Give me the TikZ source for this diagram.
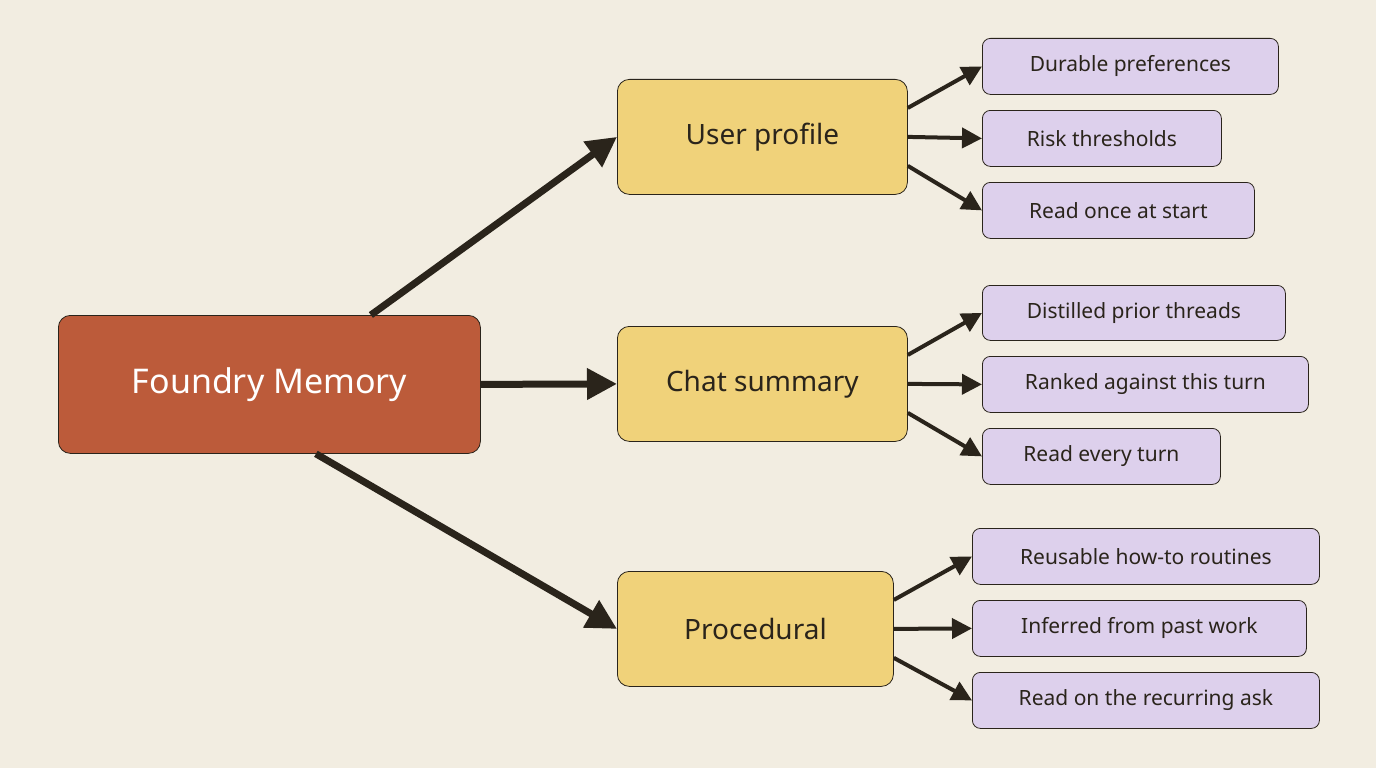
\documentclass[tikz,border=0pt]{standalone}
\usepackage{fontspec}
\setmainfont{Noto Sans}
\usetikzlibrary{arrows.meta,calc}
\definecolor{bg}{HTML}{F2EDE1}
\definecolor{rootc}{HTML}{BC5B3A}
\definecolor{midc}{HTML}{F0D27A}
\definecolor{leafc}{HTML}{DDD0EC}
\definecolor{ink}{HTML}{2A241B}
\tikzset{x=1pt,y=-1pt,
 box/.style={draw=ink,line width=0.8pt,rounded corners=12pt,anchor=north west,inner sep=0pt,align=center},
 root/.style={box,fill=rootc,text=white,font=\fontsize{34}{40}\selectfont},
 mid/.style={box,fill=midc,text=ink,font=\fontsize{28}{34}\selectfont},
 leaf/.style={box,fill=leafc,text=ink,rounded corners=8pt,font=\fontsize{21}{26}\selectfont},
 big/.style={draw=ink,line width=7pt,-{Triangle[length=30pt,width=30pt]}},
 small/.style={draw=ink,line width=4pt,-{Triangle[length=20pt,width=20pt]}}}
\begin{document}
\begin{tikzpicture}
\fill[bg] (0,0) rectangle (1376,768);
\node[root,minimum width=422pt,minimum height=138pt] (fm) at (58,315) {Foundry Memory};
\node[mid,minimum width=290pt,minimum height=115pt] (up) at (617,79) {User profile};
\node[mid,minimum width=290pt,minimum height=115pt] (cs) at (617,326) {Chat summary};
\node[mid,minimum width=276pt,minimum height=115pt] (pr) at (617,571) {Procedural};
\node[leaf,minimum width=296pt,minimum height=56pt] (a1) at (982,38) {Durable preferences};
\node[leaf,minimum width=239pt,minimum height=56pt] (a2) at (982,110) {Risk thresholds};
\node[leaf,minimum width=272pt,minimum height=56pt] (a3) at (982,182) {Read once at start};
\node[leaf,minimum width=303pt,minimum height=55pt] (b1) at (982,285) {Distilled prior threads};
\node[leaf,minimum width=326pt,minimum height=56pt] (b2) at (982,356) {Ranked against this turn};
\node[leaf,minimum width=238pt,minimum height=56pt] (b3) at (982,428) {Read every turn};
\node[leaf,minimum width=347pt,minimum height=56pt] (c1) at (972,528) {Reusable how-to routines};
\node[leaf,minimum width=334pt,minimum height=56pt] (c2) at (972,600) {Inferred from past work};
\node[leaf,minimum width=347pt,minimum height=56pt] (c3) at (972,672) {Read on the recurring ask};
\draw[big] ($(fm.north west)!0.74!(fm.north east)$) -- (up.west);
\draw[big] (fm.east) -- (cs.west);
\draw[big] ($(fm.south west)!0.61!(fm.south east)$) -- (pr.west);
\foreach \m/\p in {up/a,cs/b,pr/c}{
 \draw[small] ($(\m.north east)!0.25!(\m.south east)$) -- (\p1.west);
 \draw[small] (\m.east) -- (\p2.west);
 \draw[small] ($(\m.north east)!0.75!(\m.south east)$) -- (\p3.west);
}
\end{tikzpicture}
\end{document}
